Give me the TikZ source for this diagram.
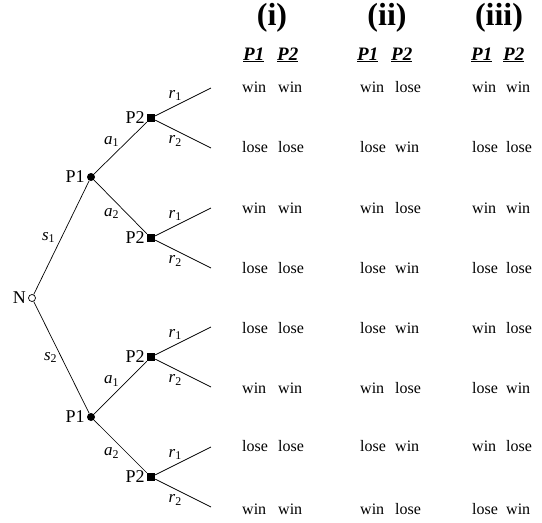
\documentclass[tikz,border=0pt]{standalone}
\usepackage{fontspec}
\setmainfont{Liberation Serif}
\usetikzlibrary{positioning}

\newcommand{\brlbl}[2]{\textit{#1}\textsubscript{#2}}

\begin{document}
\begin{tikzpicture}[x=1pt, y=-1pt,
        font=\fontsize{16}{18}\selectfont,
        chance/.style={circle, draw, fill=white, inner sep=0pt,
                       minimum size=7pt, line width=0.7pt},
        pone/.style={circle, fill=black, inner sep=0pt, minimum size=8pt},
        ptwo/.style={rectangle, fill=black, inner sep=0pt, minimum size=8pt},
        who/.style={inner sep=1pt, label distance=1pt, font=\fontsize{18}{20}\selectfont},
        branch/.style={line width=0.7pt},
        lbl/.style={inner sep=1pt, font=\fontsize{17}{19}\selectfont},
        cell/.style={anchor=west, inner sep=0pt},
        head/.style={font=\fontsize{32}{34}\selectfont\bfseries},
        sub/.style={anchor=west, inner sep=0pt, font=\fontsize{19}{21}\selectfont\bfseries\itshape}
      ]
        \useasboundingbox (0,0) rectangle (542,523);
        % tree
        \node[chance, label={[who]left:N}] (n) at (32,298) {};
        \node[pone, label={[who]left:P1}] (p1a) at (91,177) {};
        \node[pone, label={[who]left:P1}] (p1b) at (91,417) {};
        \node[ptwo, label={[who]left:P2}] (p2a) at (151,118) {};
        \node[ptwo, label={[who]left:P2}] (p2b) at (151,238) {};
        \node[ptwo, label={[who]left:P2}] (p2c) at (151,357) {};
        \node[ptwo, label={[who]left:P2}] (p2d) at (151,477) {};
        \coordinate (l1) at (211,88);
        \coordinate (l2) at (211,148);
        \coordinate (l3) at (211,208);
        \coordinate (l4) at (211,268);
        \coordinate (l5) at (211,327);
        \coordinate (l6) at (211,387);
        \coordinate (l7) at (211,447);
        \coordinate (l8) at (211,507);
        \draw[branch] (n) -- node[lbl, left=5pt] {\brlbl{s}{1}} (p1a);
        \draw[branch] (n) -- node[lbl, left=3pt] {\brlbl{s}{2}} (p1b);
        \draw[branch] (p1a) -- node[lbl, above left=0pt] {\brlbl{a}{1}} (p2a);
        \draw[branch] (p1a) -- node[lbl, below left=0pt] {\brlbl{a}{2}} (p2b);
        \draw[branch] (p1b) -- node[lbl, above left=0pt] {\brlbl{a}{1}} (p2c);
        \draw[branch] (p1b) -- node[lbl, below left=0pt] {\brlbl{a}{2}} (p2d);
        \foreach \p/\u/\d in {p2a/l1/l2, p2b/l3/l4, p2c/l5/l6, p2d/l7/l8} {
          \draw[branch] (\p) -- node[lbl, above left] {\brlbl{r}{1}} (\u);
          \draw[branch] (\p) -- node[lbl, below left] {\brlbl{r}{2}} (\d);
        }
        % outcome columns
        \node[head] (hi) at (272,18) {(i)};
        \node[head] (hii) at (387,18) {(ii)};
        \node[head] (hiii) at (499,18) {(iii)};
        \node[sub] (hia) at (243,55) {\underline{P1}};
        \node[sub] (hib) at (277,55) {\underline{P2}};
        \node[sub] (hiia) at (357,55) {\underline{P1}};
        \node[sub] (hiib) at (391,55) {\underline{P2}};
        \node[sub] (hiiia) at (471,55) {\underline{P1}};
        \node[sub] (hiiib) at (503,55) {\underline{P2}};
        \foreach \y/\ia/\ib/\iia/\iib/\iiia/\iiib [count=\k] in {
            87/win/win/win/lose/win/win,
            147/lose/lose/lose/win/lose/lose,
            208/win/win/win/lose/win/win,
            268/lose/lose/lose/win/lose/lose,
            328/lose/lose/lose/win/win/lose,
            388/win/win/win/lose/lose/win,
            446/lose/lose/lose/win/win/lose,
            509/win/win/win/lose/lose/win} {
          \node[cell] (ia\k) at (242,\y) {\ia};
          \node[cell] (ib\k) at (278,\y) {\ib};
          \node[cell] (iia\k) at (360,\y) {\iia};
          \node[cell] (iib\k) at (395,\y) {\iib};
          \node[cell] (iiia\k) at (472,\y) {\iiia};
          \node[cell] (iiib\k) at (506,\y) {\iiib};
        }
      \end{tikzpicture}
\end{document}
